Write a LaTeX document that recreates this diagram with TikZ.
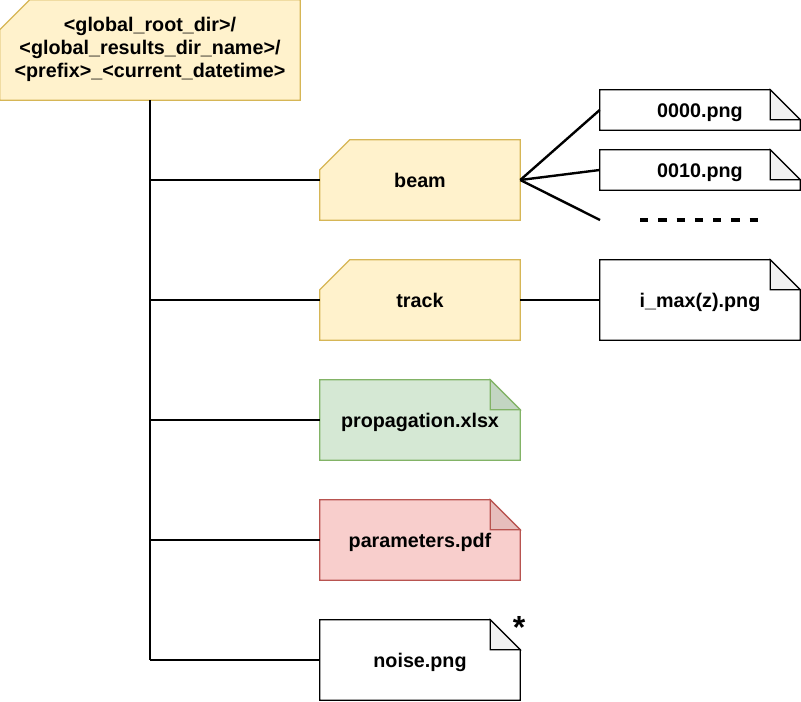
\documentclass[tikz,border=0pt]{standalone}
\usepackage{fontspec}
\setmainfont{Liberation Sans}
\usetikzlibrary{calc,backgrounds}
\definecolor{yfill}{HTML}{FFF2CC}
\definecolor{ydraw}{HTML}{D6B656}
\definecolor{gfill}{HTML}{D5E8D4}
\definecolor{gdraw}{HTML}{82B366}
\definecolor{gfold}{HTML}{C3D5C2}
\definecolor{rfill}{HTML}{F8CECC}
\definecolor{rdraw}{HTML}{B85450}
\definecolor{rfold}{HTML}{E6BEBC}
\definecolor{wfold}{HTML}{F1F1F1}
\newcommand{\mycard}[3]{%
  \filldraw[fill=#2,draw=#3,line width=0.9pt] ($(#1.north west)+(30,0)$) -- (#1.north east) -- (#1.south east) -- (#1.south west) -- ($(#1.north west)+(0,30)$) -- cycle;}
\newcommand{\mynote}[4]{%
  \filldraw[fill=#2,draw=#3,line width=0.9pt] (#1.north west) -- ($(#1.north east)+(-30,0)$) -- ($(#1.north east)+(0,30)$) -- (#1.south east) -- (#1.south west) -- cycle;
  \filldraw[fill=#4,draw=#3,line width=0.9pt] ($(#1.north east)+(-30,0)$) -- ($(#1.north east)+(-30,30)$) -- ($(#1.north east)+(0,30)$) -- cycle;}
\begin{document}
\begin{tikzpicture}[x=0.75pt,y=-0.75pt,
  basefont/.style={font=\fontsize{14.8}{17.3}\selectfont\bfseries, inner sep=0pt, text=black},
  lbl/.style={basefont, text height=11.5pt, text depth=0.5pt},
  bigbox/.style={lbl, minimum width=150pt, minimum height=60pt},
  smallbox/.style={lbl, minimum width=150pt, minimum height=30pt},
  rootbox/.style={basefont, minimum width=225pt, minimum height=75pt},
  conn/.style={line width=1.8pt, black}]
\useasboundingbox (0,0) rectangle (801,702);

\node[rootbox] (root) at (150,50) {\raisebox{-2.5pt}{\begin{tabular}{@{}c@{}}<global\_root\_dir>/\\<global\_results\_dir\_name>/\\<prefix>\_<current\_datetime>\end{tabular}}};
\node[bigbox] (beam) at (420,180) {beam};
\node[bigbox] (track) at (420,300) {track};
\node[bigbox] (prop) at (420,420) {propagation.xlsx};
\node[bigbox] (params) at (420,540) {parameters.pdf};
\node[bigbox] (noise) at (420,660) {noise.png};
\node[smallbox] (f0) at (700,110) {0000.png};
\node[smallbox] (f10) at (700,170) {0010.png};
\node[bigbox] (imax) at (700,300) {i\_max(z).png};
\node[inner sep=0pt, anchor=base, font=\fontsize{24}{24}\selectfont\bfseries] (star) at (519,639) {*};
\coordinate (dots) at (600,220);
\coordinate (dstart) at (640,220);
\coordinate (dend) at (758,220);
\coordinate (vend) at (150,660);

\begin{pgfonlayer}{background}
\mycard{root}{yfill}{ydraw}
\mycard{beam}{yfill}{ydraw}
\mycard{track}{yfill}{ydraw}
\mynote{prop}{gfill}{gdraw}{gfold}
\mynote{params}{rfill}{rdraw}{rfold}
\mynote{noise}{white}{black}{wfold}
\mynote{f0}{white}{black}{wfold}
\mynote{f10}{white}{black}{wfold}
\mynote{imax}{white}{black}{wfold}
\end{pgfonlayer}

\draw[conn] (root.south) -- (vend);
\draw[conn] (beam.west -| root.south) -- (beam.west);
\draw[conn] (track.west -| root.south) -- (track.west);
\draw[conn] (prop.west -| root.south) -- (prop.west);
\draw[conn] (params.west -| root.south) -- (params.west);
\draw[conn] (vend) -- (noise.west);
\draw[conn] (beam.east) -- (f0.west);
\draw[conn] (beam.east) -- (f10.west);
\draw[conn] (beam.east) -- (dots);
\draw[conn] (track.east) -- (imax.west);
\draw[conn, line width=2.3pt, dash pattern=on 6.2pt off 7.5pt] (dstart) -- (dend);
\end{tikzpicture}
\end{document}
